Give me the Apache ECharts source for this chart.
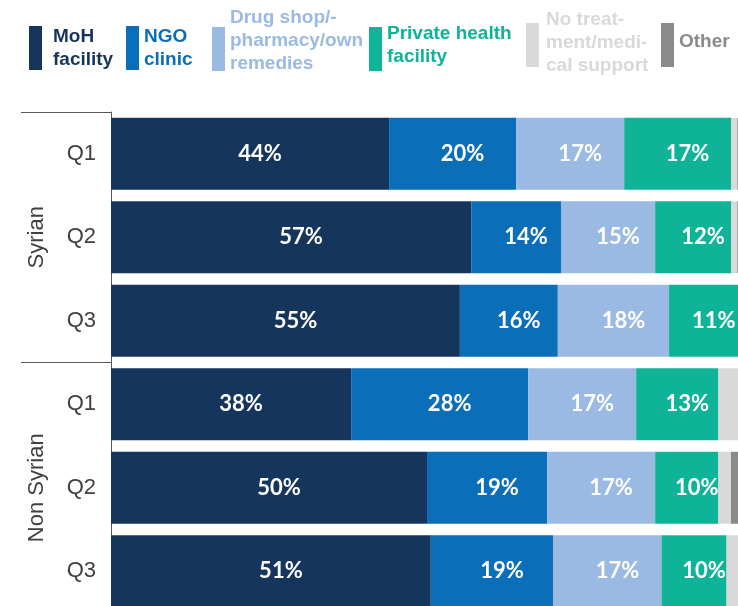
<!DOCTYPE html>
<html>
<head>
<meta charset="utf-8">
<title>Source of treatment by quarter</title>
<script src="https://cdn.jsdelivr.net/npm/echarts@6/dist/echarts.min.js"></script>
<style>
    html, body { margin: 0; padding: 0; background: #fff; overflow: hidden; }
    /* 原图右侧和底部被裁掉，画布比窗口略大 */
    #chart { width: 760px; height: 630px; }
</style>
</head>
<body>
<div id="chart"></div>
<script>
// 分组与季度
const groups = ['Syrian', 'Non Syrian'];
const quarters = ['Q1', 'Q2', 'Q3'];
const categories = ['Syrian Q1', 'Syrian Q2', 'Syrian Q3', 'Non Syrian Q1', 'Non Syrian Q2', 'Non Syrian Q3'];

// 各来源占比 (%)，顺序同 categories
const mohFacility = [44, 57, 55.2, 38, 50, 50.6];
const ngoClinic = [20.1, 14.2, 15.5, 28, 19, 19.4];
const drugShop = [17.1, 14.9, 17.6, 17.1, 17.1, 17.1];
const privateFacility = [16.9, 12, 11, 13, 10, 10.3];
const noTreatment = [1, 1, 0.5, 4, 2, 2.5];
const otherSource = [1, 1, 0.2, 0, 2, 0];

const seriesNames = [
    'MoH facility',
    'NGO clinic',
    'Drug shop/pharmacy/own remedies',
    'Private health facility',
    'No treatment/medical support',
    'Other'
];
// 图例里的换行文字
const legendLabels = [
    'MoH\nfacility',
    'NGO\nclinic',
    'Drug shop/-\npharmacy/own\nremedies',
    'Private health\nfacility',
    'No treat-\nment/medi-\ncal support',
    'Other'
];

const seriesValues = [mohFacility, ngoClinic, drugShop, privateFacility, noTreatment, otherSource];
const colors = ['#15355C', '#0B6EB8', '#9ABAE3', '#0EB398', '#D9D9D9', '#8A8A8A'];

// 图例位置（每项单独一个 legend）；shift 为文字相对色块上移的像素
const legendLayout = [
    { left: 29, iconTop: 26, shift: 0, padLeft: 6 },
    { left: 126, iconTop: 26, shift: 0, padLeft: 0 },
    { left: 212, iconTop: 27, shift: 8, padLeft: 0 },
    { left: 369, iconTop: 27, shift: 3.5, padLeft: 0 },
    { left: 526, iconTop: 23, shift: 2.5, padLeft: 2 },
    { left: 661, iconTop: 23, shift: 3, padLeft: 0 }
];
const ICON_H = 44;
const LINE_H = 23;

const chart = echarts.init(document.getElementById('chart'));

const legends = seriesNames.map((name, i) => {
    const lay = legendLayout[i];
    const lines = legendLabels[i].split('\n').length;
    // 文字块高度（末尾空行用来把文字往上推）
    const textH = lines * LINE_H + lay.shift * 2;
    const overflow = Math.min(0, ICON_H / 2 - textH / 2);
    const rich = {};
    if (lay.shift > 0) {
        rich.gap = { lineHeight: lay.shift * 2, fontSize: 1 };
    }
    return {
        data: [name],
        left: lay.left,
        top: lay.iconTop + overflow,
        padding: 0,
        icon: 'rect',
        itemWidth: 13,
        itemHeight: ICON_H,
        selectedMode: false,
        formatter: () => legendLabels[i] + (lay.shift > 0 ? '\n{gap| }' : ''),
        textStyle: {
            color: colors[i],
            fontFamily: 'Liberation Sans',
            fontWeight: 'bold',
            fontSize: 19,
            lineHeight: LINE_H,
            padding: [0, 0, 0, lay.padLeft],
            rich: rich
        }
    };
});

const series = seriesNames.map((name, i) => ({
    name: name,
    type: 'bar',
    stack: 'total',
    barCategoryGap: '14%',
    data: seriesValues[i],
    itemStyle: { color: colors[i] },
    label: {
        show: i < 4,
        position: 'inside',
        offset: [10, 0],
        color: '#fff',
        fontFamily: 'Lato',
        fontWeight: 'bold',
        fontSize: 22,
        formatter: p => Math.round(p.value) + '%'
    }
}));

chart.setOption({
    animation: false,
    legend: legends,
    grid: { left: 111, top: 112, width: 632, height: 501, containLabel: false },
    xAxis: { type: 'value', min: 0, max: 100, show: false },
    yAxis: [
        {
            type: 'category',
            data: categories,
            inverse: true,
            axisLine: { show: false },
            axisTick: { show: false },
            axisLabel: {
                margin: 15,
                color: '#404040',
                fontFamily: 'Liberation Sans',
                fontSize: 22,
                formatter: v => v.split(' ').pop()
            }
        },
        {
            // 分组轴：Syrian / Non Syrian
            type: 'category',
            data: groups,
            inverse: true,
            position: 'left',
            offset: 0,
            axisLine: { show: true, lineStyle: { color: '#595959', width: 1 } },
            axisTick: { show: true, length: 90, lineStyle: { color: '#595959', width: 1 } },
            axisLabel: {
                rotate: 90,
                margin: 63,
                color: '#404040',
                fontFamily: 'Liberation Sans',
                fontSize: 22
            }
        }
    ],
    series: series
});
</script>
</body>
</html>
